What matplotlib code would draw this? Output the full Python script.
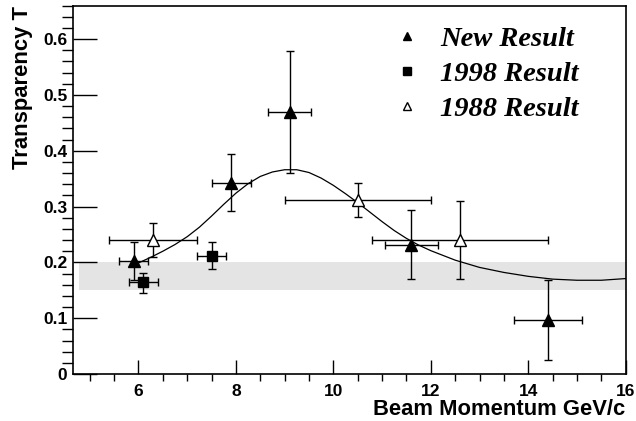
import numpy as np
import matplotlib.pyplot as plt
from matplotlib.ticker import MultipleLocator, FuncFormatter
from matplotlib.lines import Line2D

plt.rcParams['font.family'] = ['Liberation Sans', 'DejaVu Sans']

# New Result (filled triangles)
new_p = [5.9, 7.9, 9.1, 11.6, 14.4]
new_t = [0.202, 0.343, 0.469, 0.232, 0.096]
new_xerr = [0.3, 0.4, 0.45, 0.55, 0.7]
new_lo = [0.034, 0.051, 0.108, 0.062, 0.071]
new_hi = [0.035, 0.052, 0.110, 0.062, 0.072]

# 1998 Result (filled squares)
r98_p = [6.1, 7.5]
r98_t = [0.164, 0.212]
r98_xerr = [0.3, 0.3]
r98_lo = [0.019, 0.024]
r98_hi = [0.017, 0.024]

# 1988 Result (open triangles)
r88_p = [6.3, 10.5, 12.6]
r88_t = [0.240, 0.312, 0.240]
r88_xerr = [0.9, 1.5, 1.8]
r88_lo = [0.030, 0.031, 0.070]
r88_hi = [0.030, 0.030, 0.070]

# fitted curve
curve_p = [6.0, 6.25, 6.5, 6.75, 7.0, 7.25, 7.5, 7.75, 8.0, 8.25, 8.5,
           8.75, 9.0, 9.25, 9.5, 9.75, 10.0, 10.25, 10.5, 10.75, 11.0,
           11.25, 11.5, 11.75, 12.0, 12.5, 13.0, 13.5, 14.0, 14.5, 15.0,
           15.5, 16.0]
curve_t = [0.199, 0.209, 0.220, 0.232, 0.246, 0.263, 0.283, 0.304, 0.324,
           0.341, 0.354, 0.362, 0.366, 0.366, 0.361, 0.351, 0.338, 0.323,
           0.307, 0.290, 0.273, 0.257, 0.243, 0.231, 0.221, 0.204, 0.191,
           0.182, 0.175, 0.170, 0.168, 0.168, 0.171]

# Glauber band
band_lo, band_hi = 0.15, 0.20
band_p = [4.78, 16.0]

fig = plt.figure(figsize=(6.36, 4.21), dpi=100)
ax = fig.add_axes([0.1143, 0.1116, 0.8695, 0.875])

ax.fill_between(band_p, band_lo, band_hi, color='#e4e4e4', lw=0, zorder=0)
ax.plot(curve_p, curve_t, color='black', lw=0.9, zorder=2)

eb = dict(ls='none', ecolor='black', elinewidth=1.0, capsize=3, capthick=1.0,
          zorder=3)
ax.errorbar(new_p, new_t, xerr=new_xerr, yerr=[new_lo, new_hi], marker='^',
            ms=8, mfc='black', mec='black', **eb)
ax.errorbar(r98_p, r98_t, xerr=r98_xerr, yerr=[r98_lo, r98_hi], marker='s',
            ms=7, mfc='black', mec='black', **eb)
ax.errorbar(r88_p, r88_t, xerr=r88_xerr, yerr=[r88_lo, r88_hi], marker='^',
            ms=8, mfc='white', mec='black', mew=1.0, **eb)

ax.set_xlim(4.65, 16)
ax.set_ylim(0, 0.66)

ax.xaxis.set_major_locator(MultipleLocator(2))
ax.xaxis.set_minor_locator(MultipleLocator(0.5))
ax.yaxis.set_major_locator(MultipleLocator(0.1))
ax.yaxis.set_minor_locator(MultipleLocator(0.02))
ax.yaxis.set_major_formatter(FuncFormatter(
    lambda v, pos: '0' if abs(v) < 1e-9 else f'{v:.1f}'))
ax.tick_params(direction='in', top=False, right=False, labelsize=12.5)
ax.tick_params(axis='x', which='major', length=10, width=1.0, pad=7)
ax.tick_params(axis='x', which='minor', length=5, width=1.0)
ax.tick_params(axis='y', which='major', length=17, width=1.0, pad=4)
ax.tick_params(axis='y', which='minor', length=8, width=1.0)
for lab in ax.get_xticklabels() + ax.get_yticklabels():
    lab.set_fontweight('bold')
for s in ax.spines.values():
    s.set_linewidth(1.2)

ax.set_xlabel('Beam Momentum GeV/c', fontsize=15.8, fontweight='bold',
              loc='right', labelpad=0)
ax.set_ylabel('Transparency T', fontsize=15.8, fontweight='bold',
              loc='top', labelpad=7)

handles = [
    Line2D([], [], ls='none', marker='^', ms=6, mfc='black', mec='black'),
    Line2D([], [], ls='none', marker='s', ms=6, mfc='black', mec='black'),
    Line2D([], [], ls='none', marker='^', ms=6, mfc='white', mec='black'),
]
ax.legend(handles, ['New Result', '1998 Result', '1988 Result'],
          loc='upper left', bbox_to_anchor=(0.533, 1.015), frameon=False,
          handlelength=1.0, handletextpad=0.65, labelspacing=0.32,
          prop=dict(family='Liberation Serif', weight='bold', style='italic',
                    size=20.5))

fig.savefig('out.png', dpi=100)
